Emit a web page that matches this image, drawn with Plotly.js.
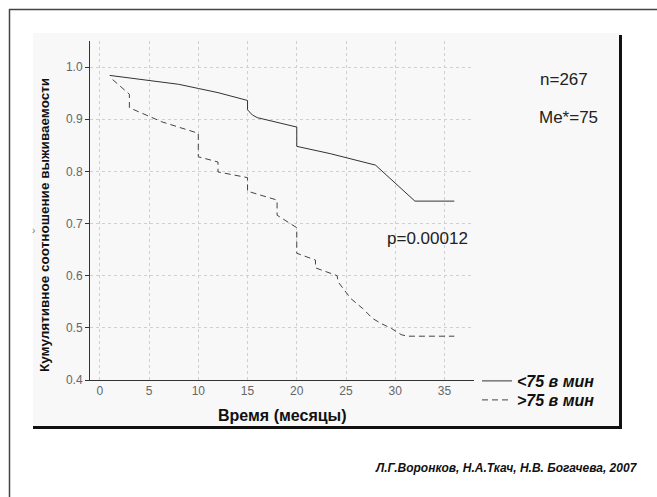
<!DOCTYPE html>
<html>
<head>
<meta charset="utf-8">
<script src="https://cdn.plot.ly/plotly-3.0.1.min.js"></script>
<style>html,body{margin:0;padding:0;background:#fff;}#chart{width:657px;height:497px;}</style>
</head>
<body>
<div id="chart"></div>
<script>
// ---- data ----
const seriesNames = ['<75 в мин', '>75 в мин'];
const monthsLow = [1, 5, 8, 10, 12, 15, 15, 15.5, 16, 20, 20, 23.4, 28, 32, 36];
const survLow   = [0.984, 0.975, 0.967, 0.959, 0.951, 0.936, 0.918, 0.908, 0.903, 0.885, 0.848, 0.834, 0.812, 0.743, 0.743];
const monthsHigh = [1.3, 3, 3, 5, 6.3, 10, 10, 12, 12, 15, 15, 18, 18, 20, 20, 21.9, 21.9, 24.1, 24.2, 25.5, 26.7, 27.7, 28.6, 29.6, 30.6, 31.2, 36];
const survHigh   = [0.976, 0.948, 0.922, 0.905, 0.895, 0.873, 0.828, 0.818, 0.799, 0.788, 0.762, 0.745, 0.716, 0.692, 0.643, 0.630, 0.615, 0.600, 0.588, 0.556, 0.537, 0.518, 0.508, 0.499, 0.487, 0.484, 0.484];
const xTicks = [0, 5, 10, 15, 20, 25, 30, 35];
const yTicks = [0.4, 0.5, 0.6, 0.7, 0.8, 0.9, 1.0];
const xTitle = 'Время (месяцы)';
const yTitle = 'Кумулятивное соотношение выживаемости';
const notes = ['n=267', 'Me*=75', 'p=0.00012'];
const footer = 'Л.Г.Воронков, Н.А.Ткач, Н.В. Богачева, 2007';

// ---- layout helpers (pixel -> paper) ----
const L = 90, R = 474, T = 41, B = 380;
const px = x => (x - L) / (R - L);
const py = y => (B - y) / (B - T);
const FONT = 'Arial, "Liberation Sans", sans-serif';

const traces = [
  {x: monthsLow, y: survLow, name: seriesNames[0], mode: 'lines', type: 'scatter',
   legend: 'legend', line: {color: '#333', width: 1}},
  {x: monthsHigh, y: survHigh, name: seriesNames[1], mode: 'lines', type: 'scatter',
   legend: 'legend2', line: {color: '#444', width: 1, dash: '6px,4px'}}
];

const legFont = {family: FONT, size: 16, color: '#111', weight: 'bold', style: 'italic'};
const legBase = {xanchor: 'left', yanchor: 'middle', bgcolor: 'rgba(0,0,0,0)', borderwidth: 0,
                 font: legFont, itemwidth: 30};

const layout = {
  width: 657, height: 497,
  margin: {l: L, r: 657 - R, t: T, b: 497 - B, pad: 0},
  paper_bgcolor: '#ffffff',
  plot_bgcolor: 'rgba(0,0,0,0)',
  font: {family: FONT, color: '#222'},
  showlegend: true,
  legend: Object.assign({x: px(477), y: py(381)}, legBase),
  legend2: Object.assign({x: px(477), y: py(400)}, legBase),
  xaxis: {range: [-1, 38], tickvals: xTicks, ticktext: xTicks.map(String),
          showgrid: true, gridcolor: '#cfcfcf', griddash: 'dot', gridwidth: 1,
          zeroline: false, showline: true, linecolor: '#333', linewidth: 1,
          ticks: '', tickfont: {family: FONT, size: 12, color: '#666'},
          title: {text: ''}},
  yaxis: {range: [0.4, 1.05], tickvals: yTicks, ticktext: yTicks.map(v => v.toFixed(1)),
          showgrid: true, gridcolor: '#cfcfcf', griddash: 'dot', gridwidth: 1,
          zeroline: false, showline: true, linecolor: '#333', linewidth: 1,
          ticks: 'outside', ticklen: 4, tickcolor: '#333',
          tickfont: {family: FONT, size: 12, color: '#666'}, title: {text: ''}},
  xaxis2: {overlaying: 'x', side: 'top', anchor: 'y', range: [-1, 38], tickvals: xTicks,
           showticklabels: false, ticks: 'inside', ticklen: 4, tickcolor: '#888',
           showline: true, linecolor: '#999', linewidth: 1, showgrid: false, zeroline: false},
  yaxis2: {overlaying: 'y', side: 'right', anchor: 'x', range: [0.4, 1.05], tickvals: yTicks,
           showticklabels: false, ticks: 'outside', ticklen: 4, tickcolor: '#888',
           showline: true, linecolor: '#999', linewidth: 1, showgrid: false, zeroline: false},
  shapes: [
    {type: 'rect', xref: 'paper', yref: 'paper', x0: px(33), x1: px(620), y0: py(33), y1: py(427),
     fillcolor: '#f8f8f8', line: {width: 0}, layer: 'below'},
    {type: 'line', xref: 'paper', yref: 'paper', x0: px(620.5), x1: px(620.5), y0: py(35), y1: py(428.5),
     line: {color: '#111', width: 3}},
    {type: 'line', xref: 'paper', yref: 'paper', x0: px(33), x1: px(622), y0: py(427.5), y1: py(427.5),
     line: {color: '#111', width: 3}},
    {type: 'line', xref: 'paper', yref: 'paper', x0: px(9), x1: px(657), y0: py(9.5), y1: py(9.5),
     line: {color: '#444', width: 1.5}},
    {type: 'line', xref: 'paper', yref: 'paper', x0: px(9.5), x1: px(9.5), y0: py(9), y1: py(497),
     line: {color: '#444', width: 1.5}}
  ],
  annotations: [
    {text: yTitle, xref: 'paper', yref: 'paper', x: px(44), y: py(225), textangle: -90,
     showarrow: false, xanchor: 'center', yanchor: 'middle',
     font: {family: FONT, size: 13.5, color: '#111', weight: 'bold'}},
    {text: xTitle, xref: 'paper', yref: 'paper', x: px(282), y: py(415),
     showarrow: false, xanchor: 'center', yanchor: 'middle',
     font: {family: FONT, size: 16, color: '#111', weight: 'bold'}},
    {text: notes[0], xref: 'paper', yref: 'paper', x: px(538), y: py(80),
     showarrow: false, xanchor: 'left', yanchor: 'middle',
     font: {family: FONT, size: 17, color: '#222'}},
    {text: notes[1], xref: 'paper', yref: 'paper', x: px(537), y: py(117),
     showarrow: false, xanchor: 'left', yanchor: 'middle',
     font: {family: FONT, size: 17, color: '#222'}},
    {text: notes[2], xref: 'paper', yref: 'paper', x: px(385), y: py(238),
     showarrow: false, xanchor: 'left', yanchor: 'middle',
     font: {family: FONT, size: 17, color: '#222'}},
    {text: footer, xref: 'paper', yref: 'paper', x: px(640), y: py(468),
     showarrow: false, xanchor: 'right', yanchor: 'middle',
     font: {family: FONT, size: 12, color: '#111', weight: 'bold', style: 'italic'}},
    {text: '›', xref: 'paper', yref: 'paper', x: px(33), y: py(230),
     showarrow: false, xanchor: 'center', yanchor: 'middle',
     font: {family: FONT, size: 10, color: '#777'}}
  ]
};

Plotly.newPlot('chart', traces, layout, {displayModeBar: false, staticPlot: true});
</script>
</body>
</html>
